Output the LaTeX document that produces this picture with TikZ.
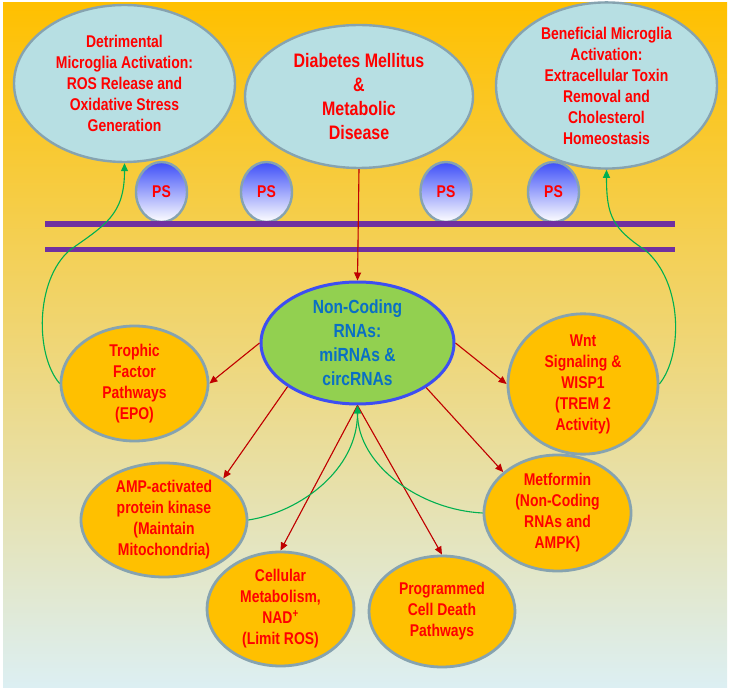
\documentclass[tikz,border=0pt]{standalone}
\usepackage{fontspec}
\setmainfont{Liberation Sans}[FakeStretch=0.82]
\usetikzlibrary{shapes.geometric,arrows.meta}
\definecolor{bgtop}{HTML}{FFC000}
\definecolor{bgmid}{HTML}{EFD677}
\definecolor{bgbot}{HTML}{DCEFF3}
\definecolor{lightblue}{HTML}{B7DFE3}
\definecolor{edgegray}{HTML}{86A3B0}
\definecolor{orangefill}{HTML}{FFC000}
\definecolor{greenfill}{HTML}{92D050}
\definecolor{ncblue}{HTML}{3D4EF2}
\definecolor{ncText}{HTML}{0A6FC4}
\definecolor{txtred}{HTML}{FF0000}
\definecolor{arrred}{HTML}{C00000}
\definecolor{arrgreen}{HTML}{00B050}
\definecolor{membrane}{HTML}{7030A0}
\definecolor{psblue}{HTML}{3E4FF8}
\pgfdeclareverticalshading{bgshade}{100bp}{color(0bp)=(bgbot); color(25bp)=(bgbot); color(50bp)=(bgmid); color(75bp)=(bgtop); color(100bp)=(bgtop)}
\tikzset{
  ell/.style={ellipse, draw=edgegray, inner sep=0pt, align=center, text=txtred,
    font=\bfseries\fontsize{17}{21}\selectfont},
  topell/.style={ell, fill=lightblue, line width=2.4pt},
  orell/.style={ell, fill=orangefill, line width=2.8pt},
  psell/.style={ellipse, draw=edgegray, line width=2.4pt, inner sep=0pt, top color=psblue, bottom color=white,
    minimum width=51pt, minimum height=60pt, text=txtred, font=\bfseries\fontsize{17}{21}\selectfont},
  redarr/.style={draw=arrred, line width=1.1pt, -{Triangle[length=8pt,width=7pt]}, fill=arrred},
  grnarr/.style={draw=arrgreen, line width=1.1pt, -{Triangle[length=8pt,width=7pt,fill=arrgreen]}},
  memb/.style={draw=membrane}
}
\begin{document}
\begin{tikzpicture}[x=1pt,y=-1pt]
\useasboundingbox (0,0) rectangle (732,692);
\shade[shading=bgshade] (3,3) rectangle (727,688);

% top ellipses
\node[topell, minimum width=221pt, minimum height=157pt] (det) at (124.5,83.5)
  {Detrimental\\Microglia Activation:\\ROS Release and\\Oxidative Stress\\Generation};
\node[topell, minimum width=228pt, minimum height=143pt, font=\bfseries\fontsize{19.5}{24}\selectfont] (dia) at (359,96.5)
  {Diabetes Mellitus\\\&\\Metabolic\\Disease};
\node[topell, minimum width=221pt, minimum height=161pt] (ben) at (606.5,85.5)
  {Beneficial Microglia\\Activation:\\Extracellular Toxin\\Removal and\\Cholesterol\\Homeostasis};

% PS receptors
\node[psell] (ps1) at (161.5,192) {PS};
\node[psell] (ps2) at (266.5,192) {PS};
\node[psell] (ps3) at (446,192) {PS};
\node[psell] (ps4) at (553.5,192) {PS};

% membrane
\coordinate (m1a) at (45,224);
\coordinate (m1b) at (675,224);
\coordinate (m2a) at (45,249.5);
\coordinate (m2b) at (675,249.5);
\draw[memb, line width=6pt] (m1a) -- (m1b);
\draw[memb, line width=4.5pt] (m2a) -- (m2b);

% central node
\node[ell, fill=greenfill, draw=ncblue, line width=3pt, text=ncText,
  font=\bfseries\fontsize{19}{24}\selectfont, minimum width=193pt, minimum height=122pt] (nc) at (357.5,343)
  {Non-Coding\\RNAs:\\miRNAs \&\\circRNAs};

% orange nodes
\node[orell, minimum width=147pt, minimum height=115pt] (tro) at (134.5,383.5)
  {Trophic\\Factor\\Pathways\\(EPO)};
\node[orell, minimum width=150pt, minimum height=116pt] (wnt) at (583,384)
  {Wnt\\Signaling \&\\WISP1\\(TREM 2\\Activity)};
\node[orell, minimum width=166pt, minimum height=114pt] (amp) at (164,520)
  {AMP-activated\\protein kinase\\(Maintain\\Mitochondria)};
\node[orell, minimum width=147pt, minimum height=114pt] (cel) at (280.5,609)
  {Cellular\\Metabolism,\\NAD\textsuperscript{+}\\(Limit ROS)};
\node[orell, minimum width=147pt, minimum height=116pt] (met) at (557.5,513)
  {Metformin\\(Non-Coding\\RNAs and\\AMPK)};
\node[orell, minimum width=146pt, minimum height=111pt] (pro) at (442,611.5)
  {Programmed\\Cell Death\\Pathways};

% red arrows
\draw[redarr] (dia.south) -- (nc.north);
\draw[redarr] (nc.west) -- (tro.east);
\draw[redarr] (nc.east) -- (wnt.west);
\draw[redarr] (nc.212) -- (amp.35);
\draw[redarr] (nc.327) -- (met.143);
\draw[redarr] (nc.south) -- (cel.north);
\draw[redarr] (nc.south) -- (pro.north);

% green feedback arrows
\draw[grnarr] (tro.west) .. controls (35,355) and (35,280) .. (70,250)
  .. controls (105,225) and (124.5,215) .. (det.south);
\draw[grnarr] (wnt.east) .. controls (683,355) and (683,282) .. (645,250)
  .. controls (612,228) and (606.5,215) .. (ben.south);
\draw[grnarr] (amp.east) .. controls (300,512) and (357.5,470) .. (nc.south);
\draw[grnarr] (met.west) .. controls (420,510) and (357.5,465) .. (nc.south);
\end{tikzpicture}
\end{document}
